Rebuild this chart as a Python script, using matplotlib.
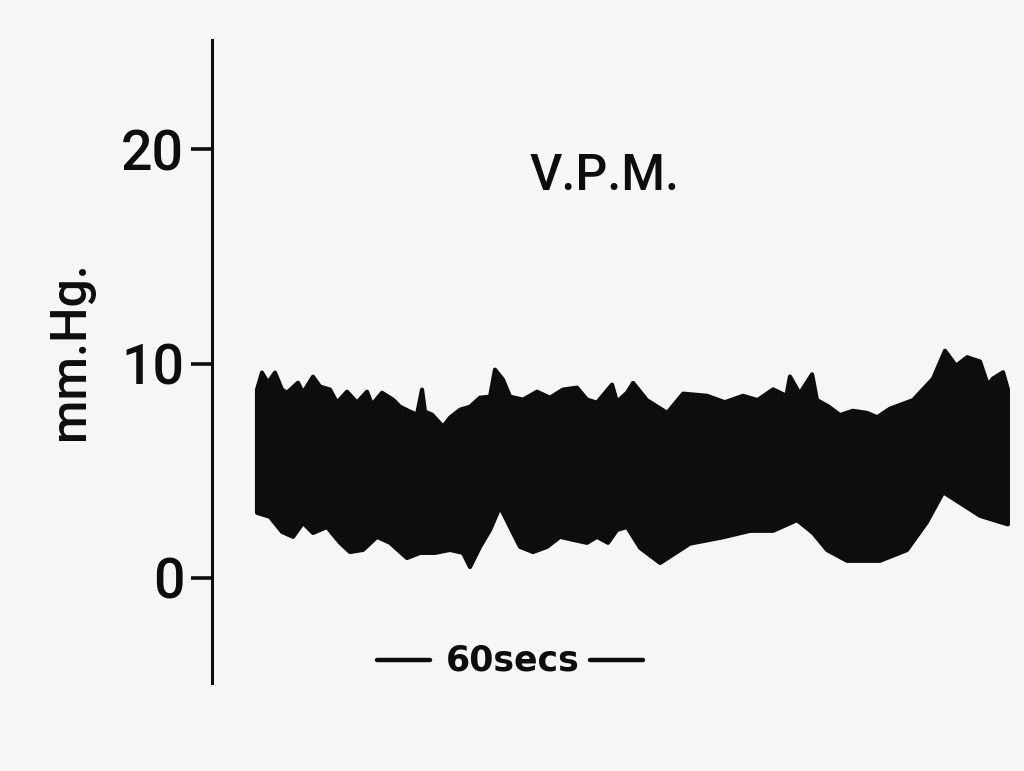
import matplotlib
matplotlib.use("Agg")
import matplotlib.pyplot as plt

# ---- data ----
# time (s) and upper envelope of the pressure trace (mm Hg)
t_upper = [0.0, 1.13, 2.48, 4.06, 5.64, 6.77, 9.26, 10.38, 12.64, 14.22, 16.48,
           18.06, 20.32, 22.57, 24.83, 25.96, 28.22, 30.70, 32.28, 34.54,
           36.12, 37.25, 37.92, 39.50, 41.99, 43.57, 45.82, 48.08, 50.34,
           52.60, 53.72, 55.53, 57.11, 60.05, 63.21, 66.14, 69.07, 72.23,
           74.49, 76.75, 80.14, 81.26, 83.52, 84.9, 88.0, 92.6, 96.2, 101.6,
           105.6, 109.7, 113.0, 116.5, 119.5, 120.3, 122.5, 125.3, 126.4,
           129.0, 131.6, 134.5, 137.7, 140.0, 142.9, 148.1, 152.6, 155.3,
           157.8, 160.3, 163.2, 165.0, 166.1, 168.4, 169.5]
upper = [8.79, 9.58, 9.11, 9.58, 8.79, 8.64, 9.11, 8.64, 9.39, 8.93, 8.79,
         8.18, 8.69, 8.18, 8.69, 8.08, 8.64, 8.32, 7.99, 7.76,
         7.62, 8.79, 7.76, 7.62, 7.06, 7.48, 7.85, 7.99, 8.41,
         8.46, 9.72, 9.25, 8.46, 8.32, 8.69, 8.41, 8.79, 8.88,
         8.32, 8.18, 9.02, 8.22, 8.64, 9.1, 8.3, 7.7, 8.6, 8.5,
         8.2, 8.5, 8.3, 8.8, 8.5, 9.4, 8.6, 9.5, 8.3,
         8.0, 7.6, 7.8, 7.7, 7.5, 7.9, 8.3, 9.3, 10.6,
         9.9, 10.3, 10.1, 9.0, 9.3, 9.6, 8.8]
# time (s) and lower envelope (mm Hg)
t_lower = [0.0, 2.93, 5.64, 8.13, 10.38, 12.64, 15.80, 18.74, 21.00, 23.93,
           27.09, 30.02, 33.86, 36.79, 40.18, 43.57, 46.50, 48.08, 50.34,
           52.60, 54.85, 57.11, 59.37, 62.30, 65.46, 68.40, 71.33, 74.49,
           76.75, 79.23, 81.26, 83.52, 86.5, 91.0, 97.7, 105.2, 111.3, 116.5,
           121.9, 125.5, 128.7, 133.2, 140.6, 146.7, 151.2, 154.9, 158.7,
           163.2, 169.5]
lower = [3.04, 2.85, 2.15, 1.92, 2.57, 2.10, 2.38, 1.64, 1.21, 1.31,
         1.92, 1.64, 0.93, 1.17, 1.17, 1.31, 1.17, 0.51, 1.45,
         2.24, 3.32, 2.38, 1.45, 1.21, 1.45, 1.92, 1.78, 1.64,
         1.92, 1.64, 2.24, 2.38, 1.4, 0.7, 1.6, 1.9, 2.2, 2.2,
         2.7, 2.1, 1.3, 0.8, 0.8, 1.3, 2.6, 4.0, 3.5,
         2.9, 2.5]

y_ticks = [0, 10, 20]
y_ticklabels = ["0", "10", "20"]
scale_bar = [27.1, 87.1]   # 60 s
scale_bar_label = "60secs"
title = "V.P.M."
ylabel = "mm.Hg."

# ---- figure ----
W, H = 1024, 771
bg = "#f6f6f4"
ink = "#0d0d0d"
font = "Roboto"
fig = plt.figure(figsize=(W / 100, H / 100), dpi=100, facecolor=bg)
ax = fig.add_axes([212 / W, 1 - 683 / H, (1015 - 212) / W, (683 - 40) / H])
ax.set_facecolor(bg)
ax.set_xlim(-10.16, 171.1)
ax.set_ylim(-4.9, 25.1)

# trace as a filled outline (upper envelope forward, lower backward)
xs = list(t_upper) + list(reversed(t_lower))
ys = list(upper) + list(reversed(lower))
ax.fill(xs, ys, color=ink, lw=3, edgecolor=ink, joinstyle="round")

for s in ["top", "right", "bottom"]:
    ax.spines[s].set_visible(False)
ax.spines["left"].set_linewidth(2.2)
ax.spines["left"].set_color(ink)
ax.set_xticks([])
ax.set_yticks(y_ticks)
ax.set_yticklabels(y_ticklabels, fontfamily=font,
                   fontweight="medium", fontsize=40, color=ink)
ax.tick_params(axis="y", direction="out", length=15, width=2.6,
               color=ink, pad=5)

# scale bar with label in the middle
ybar = -3.83
mid = (scale_bar[0] + scale_bar[1]) / 2
gap = 18.0
ax.plot([scale_bar[0], mid - gap], [ybar, ybar], color=ink, lw=3.2,
        solid_capstyle="round")
ax.plot([mid + gap, scale_bar[1]], [ybar, ybar], color=ink, lw=3.2,
        solid_capstyle="round")
ax.text(mid + 0.6, ybar, scale_bar_label, ha="center", va="center",
        fontfamily="DejaVu Sans", fontweight="bold", fontsize=25,
        color=ink)

fig.text(605 / W, 1 - 176 / H, title, ha="center", va="center",
         fontfamily=font, fontweight="medium", fontsize=36,
         color=ink)
fig.text(70 / W, 1 - 351 / H, ylabel, rotation=90, ha="center", va="center",
         fontfamily=font, fontweight="medium", fontsize=36, color=ink)

fig.savefig("out.png", dpi=100, facecolor=bg)
